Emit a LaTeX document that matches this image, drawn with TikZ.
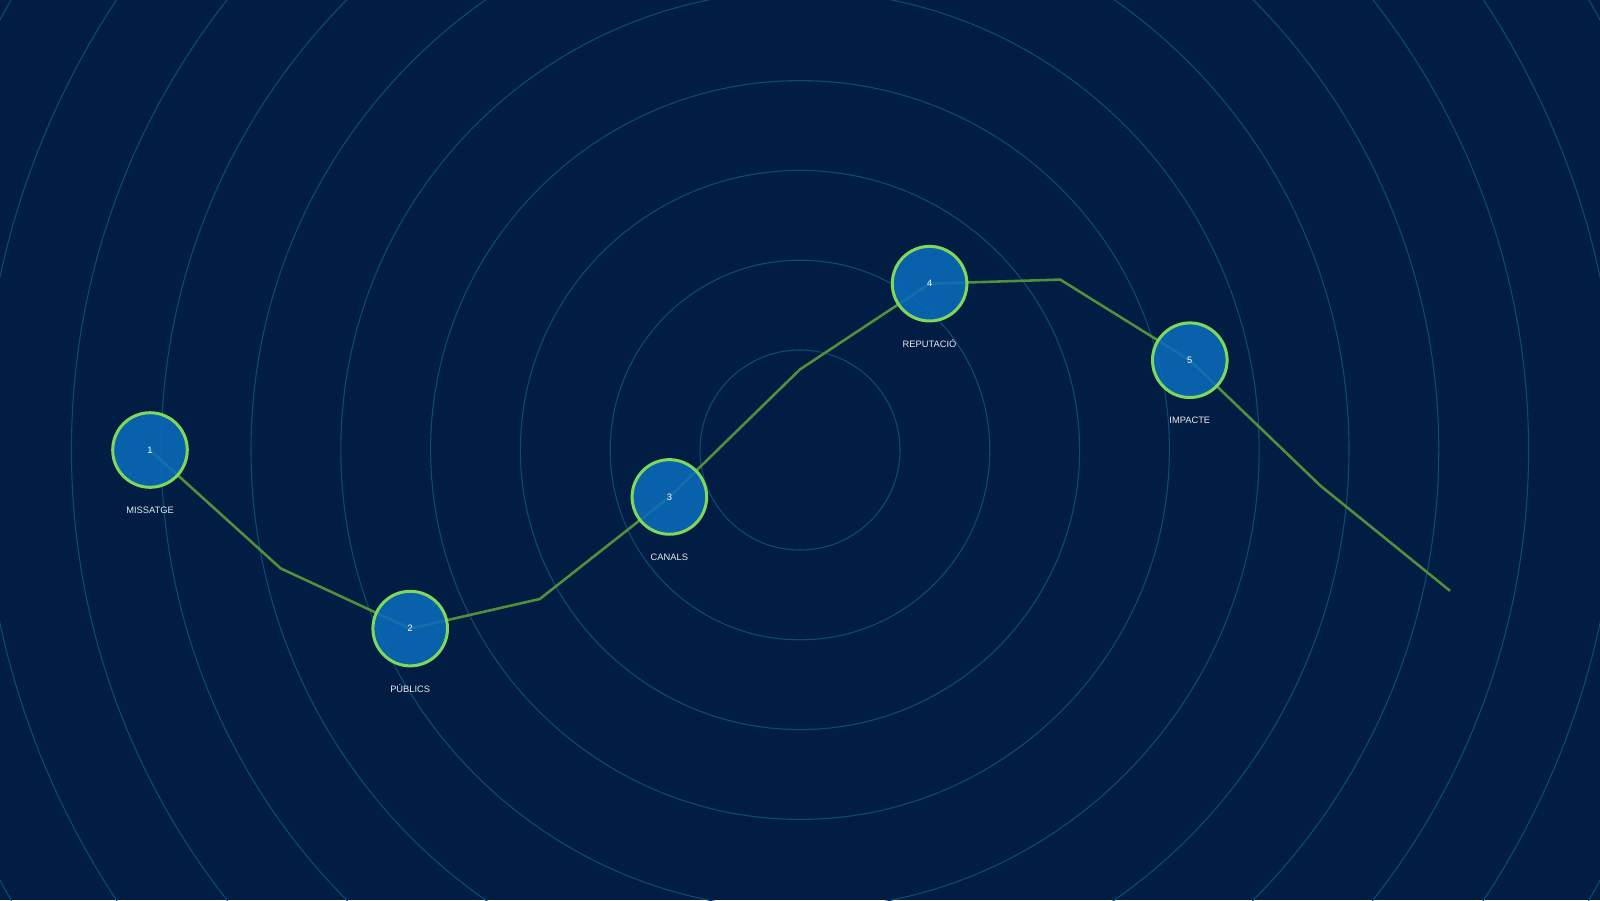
\documentclass[tikz,border=0pt]{standalone}
\usepackage{fontspec}
\setmainfont{Liberation Sans}
\usetikzlibrary{positioning}

\definecolor{bgblue}{HTML}{011D43}
\definecolor{ringblue}{HTML}{0B4C75}
\definecolor{nodeblue}{HTML}{0B6BBB}
\definecolor{nodegreen}{HTML}{7FD85A}
\definecolor{pathgreen}{HTML}{528F3C}

\tikzset{
	stage/.style={circle, draw=nodegreen, line width=4.2pt, fill=nodeblue, fill opacity=0.88, draw opacity=1, text opacity=1, minimum size=104pt, inner sep=0pt, text=white, font=\fontsize{13}{15}\selectfont},
	stagelabel/.style={text=white!92!black, font=\fontsize{13}{15}\selectfont, inner sep=0pt},
	ring/.style={draw=ringblue, line width=1.5pt},
	route/.style={draw=pathgreen, line width=3.6pt, line join=round}
}

\begin{document}
\begin{tikzpicture}[x=0.5mm, y=-0.5mm]
	\useasboundingbox (0,0) rectangle (1568,882);
	\fill[bgblue] (0,0) rectangle (1568,882);
	\clip (0,0) rectangle (1568,882);
	% concentric rings
	\foreach \r in {0,...,10}
		\draw[ring] (784,441) circle ({(98+88*\r)*0.5mm});
	% bend points of the route
	\coordinate (b1) at (275,557);
	\coordinate (b2) at (529,587);
	\coordinate (b3) at (784,362);
	\coordinate (b4) at (1039,274);
	\coordinate (b5) at (1294,476);
	\coordinate (b6) at (1421,579);
	\coordinate (p1) at (147,441);
	\coordinate (p2) at (402,616);
	\coordinate (p3) at (656,487);
	\coordinate (p4) at (911,278);
	\coordinate (p5) at (1166,353);
	\draw[route] (p1)--(b1)--(p2)--(b2)--(p3)--(b3)--(p4)--(b4)--(p5)--(b5)--(b6);
	% stages
	\node[stage] (n1) at (p1) {1};
	\node[stage] (n2) at (p2) {2};
	\node[stage] (n3) at (p3) {3};
	\node[stage] (n4) at (p4) {4};
	\node[stage] (n5) at (p5) {5};
	\node[stagelabel] (l1) at (147,500) {MISSATGE};
	\node[stagelabel] (l2) at (402,675) {PÚBLICS};
	\node[stagelabel] (l3) at (656,546) {CANALS};
	\node[stagelabel] (l4) at (911,337) {REPUTACIÓ};
	\node[stagelabel] (l5) at (1166,412) {IMPACTE};
\end{tikzpicture}
\end{document}
